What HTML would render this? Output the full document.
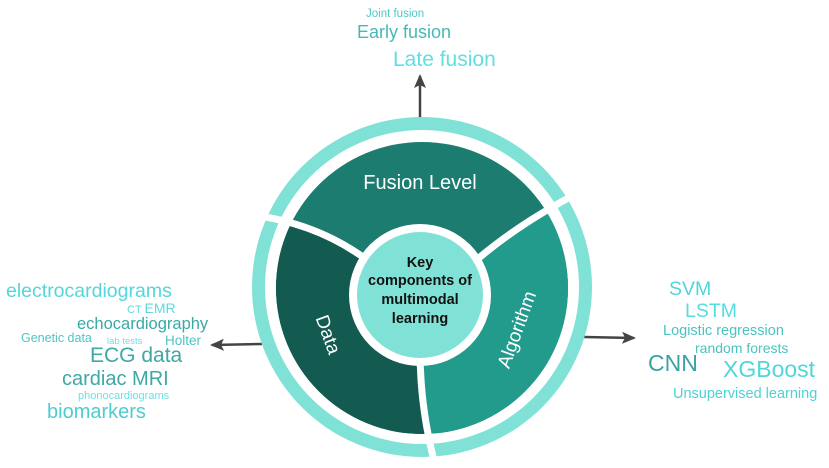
<!DOCTYPE html>
<html><head><meta charset="utf-8"><style>
html,body{margin:0;padding:0;background:#fff;}
svg{display:block;}
text{font-family:"Liberation Sans",Arial,sans-serif;}
</style></head><body>
<svg width="829" height="468" viewBox="0 0 829 468" xmlns="http://www.w3.org/2000/svg">
<defs>
<marker id="ah" markerWidth="14" markerHeight="12" refX="12" refY="6" orient="auto" markerUnits="userSpaceOnUse">
<path d="M0,0 L14,6 L0,12 L3,6 Z" fill="#444"/>
</marker>
</defs>
<!-- arrows -->
<line x1="420" y1="118" x2="420" y2="76" stroke="#444" stroke-width="2.5" marker-end="url(#ah)"/>
<line x1="262" y1="344" x2="212" y2="345" stroke="#444" stroke-width="2.5" marker-end="url(#ah)"/>
<line x1="584" y1="337" x2="634" y2="338" stroke="#444" stroke-width="2.5" marker-end="url(#ah)"/>

<!-- outer ring -->
<circle cx="422" cy="287" r="170" fill="#80e2d7"/>
<circle cx="422" cy="287" r="157" fill="#fff"/>
<!-- segments -->
<clipPath id="dc"><circle cx="422" cy="288" r="146"/></clipPath>
<g clip-path="url(#dc)">
<rect x="250" y="130" width="350" height="320" fill="#1c7c70"/>
<path d="M420,295 L380,270 Q320,220 240,214 L240,468 L436,468 Q420,410 420,350 Z" fill="#135a50"/>
<path d="M420,295 L465,270 Q520,220 600,182 L600,468 L436,468 Q420,410 420,350 Z" fill="#239b8c"/>
</g>
<!-- gaps -->
<g fill="none" stroke="#fff" stroke-width="7">
<path d="M380,270 Q320,220 240,214"/>
<path d="M465,270 Q520,220 600,182"/>
<path d="M420,350 Q420,410 436,468"/>
</g>
<!-- center -->
<circle cx="420" cy="295" r="71" fill="#fff"/>
<circle cx="420" cy="295" r="63" fill="#80e2d7"/>
<g font-weight="bold" font-size="14.5" fill="#111" text-anchor="middle">
<text x="420" y="267">Key</text>
<text x="420" y="285">components of</text>
<text x="420" y="304">multimodal</text>
<text x="420" y="323">learning</text>
</g>
<text x="420" y="189" font-size="20" fill="#fff" text-anchor="middle">Fusion Level</text>
<text transform="translate(327,335) rotate(70)" font-size="19" fill="#fff" text-anchor="middle" dominant-baseline="middle">Data</text>
<text transform="translate(518,330) rotate(-70)" font-size="19" fill="#fff" text-anchor="middle" dominant-baseline="middle">Algorithm</text>

<!-- top words -->
<text x="366" y="17" font-size="11.5" fill="#4fc8c4">Joint fusion</text>
<text x="357" y="38" font-size="18" fill="#45b9b5">Early fusion</text>
<text x="393" y="66" font-size="21" fill="#5fe0e0">Late fusion</text>

<!-- left words -->
<text x="6" y="297" font-size="19.5" fill="#55d6d8">electrocardiograms</text>
<text x="127" y="313" font-size="11" fill="#5fd9dc">CT <tspan font-size="14">EMR</tspan></text>
<text x="77" y="329" font-size="16.5" fill="#3aa9a5">echocardiography</text>
<text x="21" y="342" font-size="12.5" fill="#4fc4c2">Genetic data</text>
<text x="107" y="344" font-size="9.5" fill="#6fe0e6">lab tests</text>
<text x="165" y="345" font-size="13.5" fill="#4fc4c2">Holter</text>
<text x="90" y="362" font-size="21" fill="#3ea8a4">ECG data</text>
<text x="62" y="385" font-size="20" fill="#3ea8a4">cardiac MRI</text>
<text x="78" y="399" font-size="11" fill="#6fe0e6">phonocardiograms</text>
<text x="47" y="418" font-size="20" fill="#4ccdd0">biomarkers</text>

<!-- right words -->
<text x="669" y="295" font-size="19.5" fill="#4fd6da">SVM</text>
<text x="685" y="317" font-size="19.5" fill="#55dcdf">LSTM</text>
<text x="663" y="335" font-size="14.5" fill="#4bc3c0">Logistic regression</text>
<text x="695" y="353" font-size="14" fill="#4bc3c0">random forests</text>
<text x="648" y="371" font-size="23" fill="#3aa3a2">CNN</text>
<text x="723" y="377" font-size="23" fill="#4fd6da">XGBoost</text>
<text x="673" y="398" font-size="14.5" fill="#4fd0d4">Unsupervised learning</text>
</svg>
</body></html>
